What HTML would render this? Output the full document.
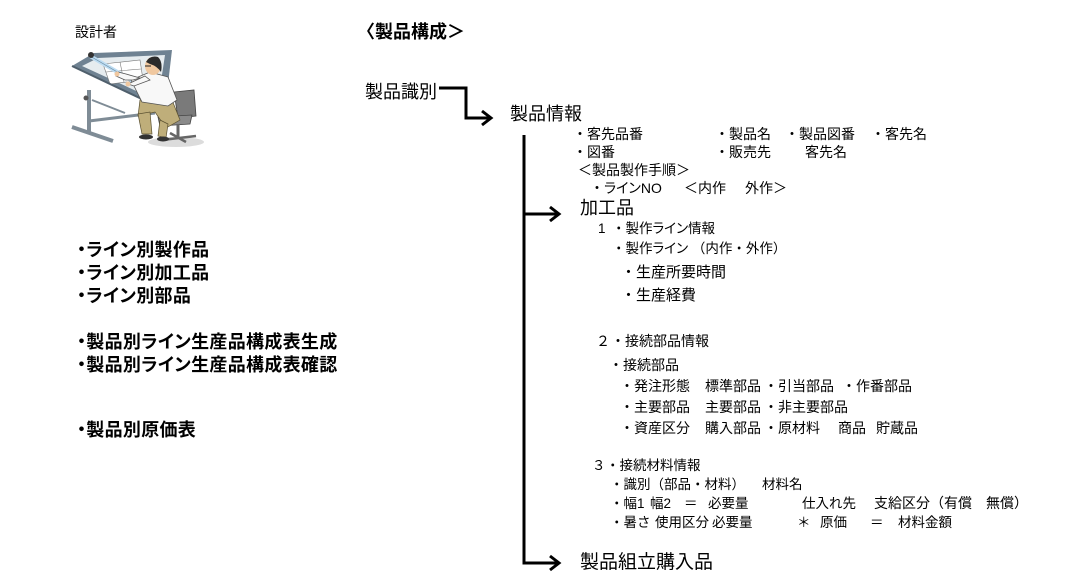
<!DOCTYPE html>
<html>
<head>
<meta charset="utf-8">
<style>
html,body{margin:0;padding:0;background:#fff;}
body{width:1081px;height:588px;position:relative;overflow:hidden;}
.t{position:absolute;white-space:nowrap;line-height:1;color:#000;
font-family:"Liberation Sans","Noto Sans CJK JP",sans-serif;}
.p{font-feature-settings:"palt";}
.b{font-weight:bold;}
.s13{font-size:13.5px;}
.s14{font-size:14px;}
.s15{font-size:15px;}
.s18{font-size:18px;}
.s19{font-size:19px;}
.L{font-size:18px;font-weight:bold;letter-spacing:0.3px;font-feature-settings:"palt";}
svg{position:absolute;left:0;top:0;}
</style>
</head>
<body>
<svg width="1081" height="588" viewBox="0 0 1081 588">
  <!-- designer illustration -->
  <ellipse cx="176" cy="142" rx="28" ry="5" fill="#dcdcdc"/>
  <line x1="72" y1="127" x2="113" y2="141" stroke="#7f8c96" stroke-width="4"/>
  <line x1="89" y1="121" x2="155" y2="113" stroke="#7f8c96" stroke-width="3"/>
  <line x1="89" y1="90" x2="89" y2="132" stroke="#7f8c96" stroke-width="4"/>
  <line x1="92" y1="100" x2="125" y2="113" stroke="#7f8c96" stroke-width="2"/>
  <circle cx="86" cy="98" r="2.5" fill="#555"/>
  <polygon points="72,66 94,53 172,50 165,110" fill="#6f8292"/>
  <polygon points="82,66 98,58 165,55 158,101" fill="#e6ecef"/>
  <polygon points="103,64 140,60 143,80 110,84" fill="#fff" stroke="#777" stroke-width="0.6"/>
  <line x1="106" y1="72" x2="141" y2="69" stroke="#777" stroke-width="0.6"/>
  <line x1="120" y1="62" x2="124" y2="82" stroke="#777" stroke-width="0.6"/>
  <line x1="90" y1="56" x2="143" y2="87" stroke="#bcdcf2" stroke-width="4"/>
  <line x1="90" y1="56" x2="143" y2="87" stroke="#6a8aa0" stroke-width="0.6"/>
  <circle cx="91" cy="55" r="3" fill="#333"/>
  <line x1="72" y1="66" x2="165" y2="110" stroke="#4f5f6c" stroke-width="2"/>
  <polygon points="174,92 194,90 196,116 178,118" fill="#7a7a7a" stroke="#444" stroke-width="0.8"/>
  <polygon points="158,117 192,115 190,124 160,126" fill="#8a8a8a" stroke="#444" stroke-width="0.8"/>
  <line x1="178" y1="124" x2="178" y2="137" stroke="#666" stroke-width="3"/>
  <line x1="162" y1="140" x2="196" y2="136" stroke="#666" stroke-width="2.5"/>
  <line x1="170" y1="133" x2="186" y2="142" stroke="#666" stroke-width="2.5"/>
  <polygon points="140,100 172,100 180,120 166,128 155,112 138,116" fill="#bfae7a" stroke="#5a5030" stroke-width="0.7"/>
  <polygon points="138,114 150,112 152,134 142,134" fill="#bfae7a" stroke="#5a5030" stroke-width="0.7"/>
  <polygon points="160,120 168,124 166,138 158,136" fill="#bfae7a" stroke="#5a5030" stroke-width="0.7"/>
  <ellipse cx="146" cy="137" rx="7" ry="2.5" fill="#333"/>
  <ellipse cx="163" cy="139" rx="6" ry="2.5" fill="#333"/>
  <polygon points="131,80 150,72 168,77 177,100 168,106 142,102" fill="#f8f8f8" stroke="#555" stroke-width="0.8"/>
  <polygon points="133,80 140,78 126,74 118,72 116,76 125,80" fill="#f8f8f8" stroke="#555" stroke-width="0.8"/>
  <polygon points="145,76 150,80 134,86 128,84" fill="#f8f8f8" stroke="#555" stroke-width="0.8"/>
  <circle cx="117" cy="74" r="2.5" fill="#f0c8a0"/>
  <circle cx="128" cy="84" r="2.5" fill="#f0c8a0"/>
  <ellipse cx="153" cy="66" rx="8" ry="9" fill="#f0c8a0"/>
  <path d="M146,62 Q150,55 158,57 Q163,62 161,72 Q157,66 150,64 Z" fill="#2a2a2a"/>
  <line x1="145" y1="66" x2="151" y2="66" stroke="#222" stroke-width="1"/>

  <!-- connectors -->
  <g fill="none" stroke="#000" stroke-width="3" stroke-linejoin="miter" stroke-linecap="butt">
    <path d="M439 88 H466 V118 H490"/>
    <polyline points="482,111 491,118 482,125"/>
    <path d="M524 135 V564.5"/>
    <path d="M524 214 H557"/>
    <polyline points="550,207 559,214 550,221"/>
    <path d="M522.5 563 H557"/>
    <polyline points="550,556 559,563 550,570"/>
  </g>
</svg>

<div class="t s14" style="left:75px;top:25px;">設計者</div>
<div class="t s18 b" style="left:357px;top:23px;">〈製品構成＞</div>
<div class="t s18" style="left:365px;top:83px;">製品識別</div>

<div class="t s18" style="left:510px;top:105px;">製品情報</div>
<div class="t s14" style="left:573px;top:127px;">・客先品番</div>
<div class="t s14" style="left:715px;top:127px;">・製品名</div>
<div class="t s14" style="left:785px;top:127px;">・製品図番</div>
<div class="t s14" style="left:871px;top:127px;">・客先名</div>
<div class="t s14" style="left:573px;top:145px;">・図番</div>
<div class="t s14" style="left:715px;top:145px;">・販売先</div>
<div class="t s14" style="left:805px;top:145px;">客先名</div>
<div class="t s14" style="left:578px;top:163px;">＜製品製作手順＞</div>
<div class="t s14" style="left:590px;top:181px;">・<span class="p">ライン</span>NO</div>
<div class="t s14" style="left:684px;top:181px;">＜内作</div>
<div class="t s14" style="left:745px;top:181px;">外作＞</div>

<div class="t s18" style="left:580px;top:199px;">加工品</div>
<div class="t s13" style="left:598px;top:222px;">1</div>
<div class="t s13" style="left:612px;top:222px;">・製作<span class="p">ライン</span>情報</div>
<div class="t s13" style="left:612px;top:242px;">・製作<span class="p">ライン</span>&nbsp;（内作・外作）</div>
<div class="t s15" style="left:621px;top:265px;">・生産所要時間</div>
<div class="t s15" style="left:621px;top:288px;">・生産経費</div>

<div class="t s14" style="left:596px;top:334px;">２</div>
<div class="t s14" style="left:611px;top:334px;">・接続部品情報</div>
<div class="t s14" style="left:609px;top:358px;">・接続部品</div>
<div class="t s14" style="left:620px;top:379px;">・発注形態</div>
<div class="t s14" style="left:705px;top:379px;">標準部品</div>
<div class="t s14" style="left:764px;top:379px;">・引当部品</div>
<div class="t s14" style="left:842px;top:379px;">・作番部品</div>
<div class="t s14" style="left:620px;top:400px;">・主要部品</div>
<div class="t s14" style="left:705px;top:400px;">主要部品</div>
<div class="t s14" style="left:764px;top:400px;">・非主要部品</div>
<div class="t s14" style="left:620px;top:421px;">・資産区分</div>
<div class="t s14" style="left:705px;top:421px;">購入部品</div>
<div class="t s14" style="left:764px;top:421px;">・原材料</div>
<div class="t s14" style="left:838px;top:421px;">商品</div>
<div class="t s14" style="left:876px;top:421px;">貯蔵品</div>

<div class="t s13" style="left:592px;top:459px;">３</div>
<div class="t s13" style="left:606px;top:459px;">・接続材料情報</div>
<div class="t s13" style="left:610px;top:478px;">・識別（部品・材料）</div>
<div class="t s13" style="left:762px;top:478px;">材料名</div>
<div class="t s13" style="left:610px;top:497px;">・幅1</div>
<div class="t s13" style="left:650px;top:497px;">幅2</div>
<div class="t s13" style="left:684px;top:497px;">＝</div>
<div class="t s13" style="left:708px;top:497px;">必要量</div>
<div class="t s13" style="left:802px;top:497px;">仕入れ先</div>
<div class="t s14" style="left:874px;top:496px;">支給区分（有償　無償）</div>
<div class="t s13" style="left:610px;top:516px;">・暑さ</div>
<div class="t s13" style="left:655px;top:516px;">使用区分</div>
<div class="t s13" style="left:712px;top:516px;">必要量</div>
<div class="t s13" style="left:797px;top:516px;">＊</div>
<div class="t s13" style="left:820px;top:516px;">原価</div>
<div class="t s13" style="left:870px;top:516px;">＝</div>
<div class="t s13" style="left:898px;top:516px;">材料金額</div>

<div class="t s19" style="left:580px;top:553px;">製品組立購入品</div>

<div class="t L" style="left:77px;top:241px;">・ライン別製作品</div>
<div class="t L" style="left:77px;top:264px;">・ライン別加工品</div>
<div class="t L" style="left:77px;top:287px;">・ライン別部品</div>
<div class="t L" style="left:77px;top:333px;">・製品別ライン生産品構成表生成</div>
<div class="t L" style="left:77px;top:356px;">・製品別ライン生産品構成表確認</div>
<div class="t L" style="left:77px;top:421px;">・製品別原価表</div>
</body>
</html>
